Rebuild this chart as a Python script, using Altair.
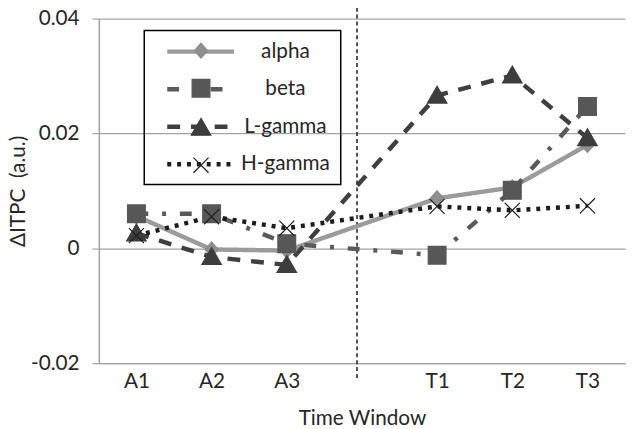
import altair as alt
import pandas as pd

# ---- data ----
windows = ["A1", "A2", "A3", " ", "T1", "T2", "T3"]
data_windows = ["A1", "A2", "A3", "T1", "T2", "T3"]
series = ["alpha", "beta", "L-gamma", "H-gamma"]
alpha = [0.0056, -0.0002, -0.0004, 0.0087, 0.0106, 0.0180]
beta = [0.0060, 0.0060, 0.0008, -0.0012, 0.0101, 0.0247]
lgamma = [0.0026, -0.0015, -0.0029, 0.0266, 0.0301, 0.0192]
hgamma = [0.0022, 0.0055, 0.0035, 0.0073, 0.0066, 0.0074]
y_ticks = [-0.02, 0, 0.02, 0.04]

# ---- styles ----
line_colors = ["#9b9b9b", "#5a5a5a", "#3f3f3f", "#1c1c1c"]
marker_colors = ["#8e8e8e", "#575757", "#3d3d3d", "#1c1c1c"]
dashes = [[1, 0], [12, 14, 4, 14], [13, 11], [4, 6]]
shapes = [
    "M0,-0.85L0.75,0L0,0.85L-0.75,0Z",
    "M-1,-1H1V1H-1Z",
    "M0,-1.05L1.1,0.85L-1.1,0.85Z",
    "M-0.85,-0.85L0.85,0.85M-0.85,0.85L0.85,-0.85",
]
syms = [s + " " for s in series]
FONT = "Lato"
TXT = "#262626"
GRAY = "#a3a3a3"

rows = []
for name, vals in zip(series, [alpha, beta, lgamma, hgamma]):
    for w, v in zip(data_windows, vals):
        rows.append({"window": w, "series": name, "sym": name + " ", "value": v})
df = pd.DataFrame(rows)

x_enc = alt.X(
    "window:N",
    scale=alt.Scale(domain=windows, type="point", padding=0.5),
    axis=alt.Axis(
        title="Time Window", labelAngle=0, ticks=False, grid=False,
        domainColor=GRAY, domainWidth=1.5, labelFont=FONT, labelFontSize=21,
        labelColor=TXT, labelPadding=8, titleFont=FONT, titleFontSize=21,
        titleFontWeight="normal", titleColor=TXT, titlePadding=16,
    ),
)
y_enc = alt.Y(
    "value:Q",
    scale=alt.Scale(domain=[-0.02, 0.04], nice=False, zero=False),
    axis=alt.Axis(
        values=y_ticks,
        labelExpr="datum.value == 0 ? '0' : (datum.value < 0 ? '-' : '') + format(abs(datum.value), '.2f')",
        title="\u0394ITPC\u00a0 (a.u.)", grid=True, gridColor=GRAY, gridWidth=1.2,
        domainColor=GRAY, domainWidth=1.5, tickColor=GRAY, tickSize=7, tickWidth=1.2,
        labelFont=FONT, labelFontSize=21, labelColor=TXT, labelPadding=13,
        titleFont=FONT, titleFontSize=21, titleFontWeight="normal", titleColor=TXT,
        titlePadding=2,
    ),
)

leg_lines = alt.Legend(
    title=None, orient="none", legendX=46, legendY=12, padding=10,
    strokeColor="black", symbolType="M0.2,0H7.7", symbolSize=324,
    symbolStrokeWidth=4.5, labelFont=FONT, labelFontSize=21, labelColor=TXT,
    labelAlign="center", labelOffset=110, rowPadding=16,
)
leg_marks = alt.Legend(
    title=None, orient="none", legendX=46, legendY=12, padding=10,
    symbolSize=324, symbolStrokeWidth=1.2, symbolOffset=37,
    labelFont=FONT, labelFontSize=21, labelExpr="''",
    labelAlign="center", labelOffset=110, rowPadding=16,
)

lines = alt.Chart(df).mark_line(strokeWidth=4.5).encode(
    x=x_enc, y=y_enc,
    color=alt.Color("series:N", scale=alt.Scale(domain=series, range=line_colors), legend=leg_lines),
    strokeDash=alt.StrokeDash("series:N", scale=alt.Scale(domain=series, range=dashes), legend=leg_lines),
)

points = alt.Chart(df).mark_point(filled=True, size=324, strokeWidth=1.2, opacity=1).encode(
    x=x_enc, y=y_enc,
    shape=alt.Shape("sym:N", scale=alt.Scale(domain=syms, range=shapes), legend=leg_marks),
    fill=alt.Fill("sym:N", scale=alt.Scale(domain=syms, range=marker_colors), legend=leg_marks),
    stroke=alt.Stroke("sym:N", scale=alt.Scale(domain=syms, range=marker_colors), legend=leg_marks),
)

divider = alt.Chart(pd.DataFrame({"window": [" "]})).mark_rule(
    strokeDash=[4, 3], strokeWidth=1.5, color="#1a1a1a", xOffset=-5
).encode(x=x_enc, y=alt.value(-11), y2=alt.value(367))

chart = (
    alt.layer(divider, lines, points)
    .properties(
        width=533, height=349,
        padding={"left": 92, "top": 8, "right": 5, "bottom": 64},
        autosize=alt.AutoSizeParams(type="none"),
        background="white",
    )
    .configure_view(stroke="transparent")
    .configure_legend(strokeWidth=1.5)
)

chart.save("out.html", embed_options={"renderer": "svg", "actions": False})
